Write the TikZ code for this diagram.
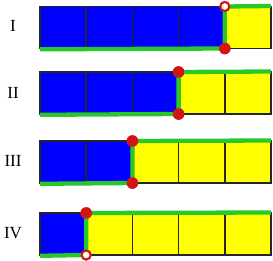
\documentclass[tikz,border=0pt]{standalone}
\usepackage{fontspec}
\setmainfont{Liberation Serif}
\definecolor{cblue}{RGB}{0,0,255}
\definecolor{cyellow}{RGB}{255,255,0}
\definecolor{cgreen}{RGB}{40,200,40}
\definecolor{cred}{RGB}{210,20,20}
\tikzset{
  bluecell/.style={fill=cblue},
  yellowcell/.style={fill=cyellow},
  gridline/.style={draw=black!85, line width=1.6pt},
  greenline/.style={draw=cgreen, line width=4.3pt},
  dotfilled/.style={circle, fill=cred, inner sep=0pt, minimum size=11.5pt},
  dotopen/.style={circle, fill=white, draw=cred, line width=2pt, inner sep=0pt, minimum size=9pt},
  rowlabel/.style={font=\fontsize{17}{17}\selectfont, inner sep=0pt}
}
\newcommand{\drawrow}[6]{% #1 name, #2 top, #3 bottom, #4 k blue, #5 top dot style, #6 bottom dot style
  \pgfmathsetmacro{\bx}{40+#4*46.2}
  \fill[bluecell] (40,#2) rectangle (\bx,#3);
  \fill[yellowcell] (\bx,#2) rectangle (271,#3);
  \draw[gridline] (40,#2) rectangle (271,#3);
  \foreach \i in {1,2,3,4} { \draw[gridline] ({40+\i*46.2},#2) -- ({40+\i*46.2},#3); }
  \coordinate (#1bl) at (40,#3+0.8);
  \coordinate (#1tr) at (271,#2-0.5);
  \node[#5] (#1t) at (\bx,#2) {};
  \node[#6] (#1b) at (\bx,#3) {};
  \draw[greenline] (#1bl) -- (#1b.center) -- (#1t.center) -- (#1tr);
  \node[#5] at (#1t) {};
  \node[#6] at (#1b) {};
}
\begin{document}
\begin{tikzpicture}[x=1pt,y=-1pt]
\useasboundingbox (0,0) rectangle (273,260);
\drawrow{r1}{6.5}{48.5}{4}{dotopen}{dotfilled}
\drawrow{r2}{72}{114}{3}{dotfilled}{dotfilled}
\drawrow{r3}{141}{183}{2}{dotfilled}{dotfilled}
\drawrow{r4}{213}{255}{1}{dotfilled}{dotopen}
\node[rowlabel] (l1) at (13,26) {I};
\node[rowlabel] (l2) at (13,93) {II};
\node[rowlabel] (l3) at (13,161) {III};
\node[rowlabel] (l4) at (13,233) {IV};
\end{tikzpicture}
\end{document}
